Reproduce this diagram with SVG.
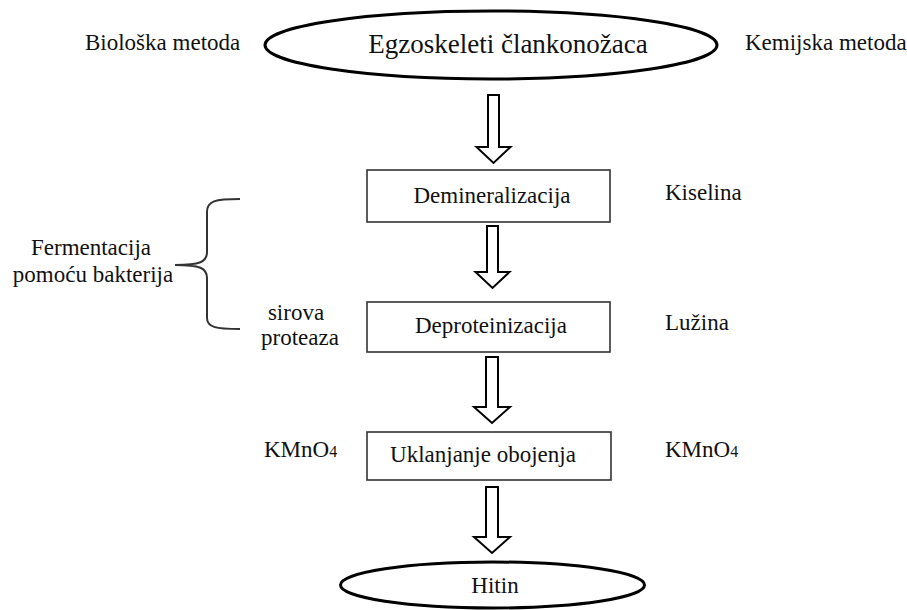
<svg xmlns="http://www.w3.org/2000/svg" width="907" height="610" viewBox="0 0 907 610">
<style>
text{font-family:"Liberation Serif","Times New Roman",serif;fill:#111;font-size:23px}
.c{text-anchor:middle}
.box{fill:#fff;stroke:#333;stroke-width:1.6}
.ell{fill:#fff;stroke:#000;stroke-width:3}
.arr{fill:#fff;stroke:#000;stroke-width:2;stroke-linejoin:miter}
.br{fill:none;stroke:#333;stroke-width:2}
</style>
<rect width="907" height="610" fill="#fff"/>
<g id="start">
<ellipse class="ell" cx="491" cy="45" rx="226" ry="34"/>
<text class="c" x="508" y="53" style="font-size:27px">Egzoskeleti člankonožaca</text>
</g>
<g id="demin">
<rect class="box" x="367" y="170" width="243" height="52"/>
<text class="c" x="492" y="203">Demineralizacija</text>
</g>
<g id="deprot">
<rect class="box" x="367" y="302" width="243" height="50"/>
<text class="c" x="491" y="333">Deproteinizacija</text>
</g>
<g id="uklanj">
<rect class="box" x="367" y="432" width="244" height="48"/>
<text class="c" x="483" y="462">Uklanjanje obojenja</text>
</g>
<g id="hitin">
<ellipse class="ell" cx="492.5" cy="585" rx="152" ry="23"/>
<text class="c" x="495" y="593">Hitin</text>
</g>
<g id="connectors">
<path class="arr" d="M488 95H499V147H510.5L493.5 163L476.5 147H488Z"/>
<path class="arr" d="M487 226H498V272H509.5L492.5 288L475.5 272H487Z"/>
<path class="arr" d="M486 357H498V407H510L492 423L474 407H486Z"/>
<path class="arr" d="M486 487H498V537H510L492 553L474 537H486Z"/>
<path class="br" d="M240 199C215 199 207 201 207 212V252C207 262 200 265 175 265C200 265 207 268 207 278V318C207 327 215 329 240 329"/>
</g>
<g id="labels">
<text x="85" y="50">Biološka metoda</text>
<text x="745" y="50">Kemijska metoda</text>
<text x="665" y="200">Kiselina</text>
<text x="665" y="330">Lužina</text>
<text class="c" x="91" y="255">Fermentacija</text>
<text class="c" x="93" y="282">pomoću bakterija</text>
<text class="c" x="296" y="320">sirova</text>
<text class="c" x="300" y="345">proteaza</text>
<text x="264" y="457">KMnO<tspan style="font-size:16px">4</tspan></text>
<text x="665" y="457">KMnO<tspan style="font-size:16px">4</tspan></text>
</g>
</svg>
